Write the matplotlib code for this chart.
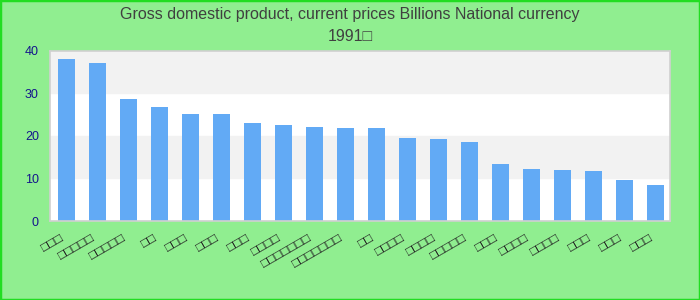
import matplotlib
matplotlib.use("Agg")
import matplotlib.pyplot as plt
from matplotlib.patches import Rectangle

plt.rcParams['font.family'] = ['Liberation Sans', 'DejaVu Sans']

# label text could not be read (shown as empty boxes in the reference)
label_lengths = [3, 5, 5, 2, 3, 3, 3, 4, 7, 7, 2, 4, 4, 5, 3, 4, 4, 3, 3, 3]
labels = ["\u25a1" * n for n in label_lengths]
values = [37.9, 37.0, 28.6, 26.7, 25.1, 25.1, 23.0, 22.5, 22.0, 21.8,
          21.8, 19.4, 19.2, 18.5, 13.3, 12.2, 11.9, 11.7, 9.6, 8.4]
yticks = [0, 10, 20, 30, 40]
title = "Gross domestic product, current prices Billions National currency\n1991\u25a1"

fig = plt.figure(figsize=(7, 3), dpi=100, facecolor="#90ee90")
fig.patches.append(Rectangle((0, 0), 1, 1, transform=fig.transFigure,
                             fill=False, edgecolor="#22dd22", linewidth=2.5))
ax = fig.add_axes([50 / 700, 79 / 300, 620 / 700, 170.5 / 300])
ax.set_facecolor("white")

# alternating bands
for lo in (10, 30):
    ax.axhspan(lo, lo + 10, color="#f2f2f2", zorder=0)

x = range(len(values))
ax.bar(x, values, width=0.55, color="#62aaf5", zorder=2)

ax.set_xlim(-0.53, len(values) - 0.53)
ax.set_ylim(0, 40)
ax.set_yticks(yticks)
ax.tick_params(axis="y", length=0, pad=8, labelsize=9, labelcolor="#14148c")
ax.set_xticks(list(x))
ax.set_xticklabels(labels, rotation=30, ha="right", fontsize=9.5, color="#222222")
ax.tick_params(axis="x", length=0, pad=8)
for s in ax.spines.values():
    s.set_color("#d0d0d0")
    s.set_linewidth(1.2)

fig.suptitle(title, y=0.975, fontsize=11.5, color="#404040", linespacing=1.55)

fig.savefig("out.png", dpi=100, facecolor=fig.get_facecolor())
